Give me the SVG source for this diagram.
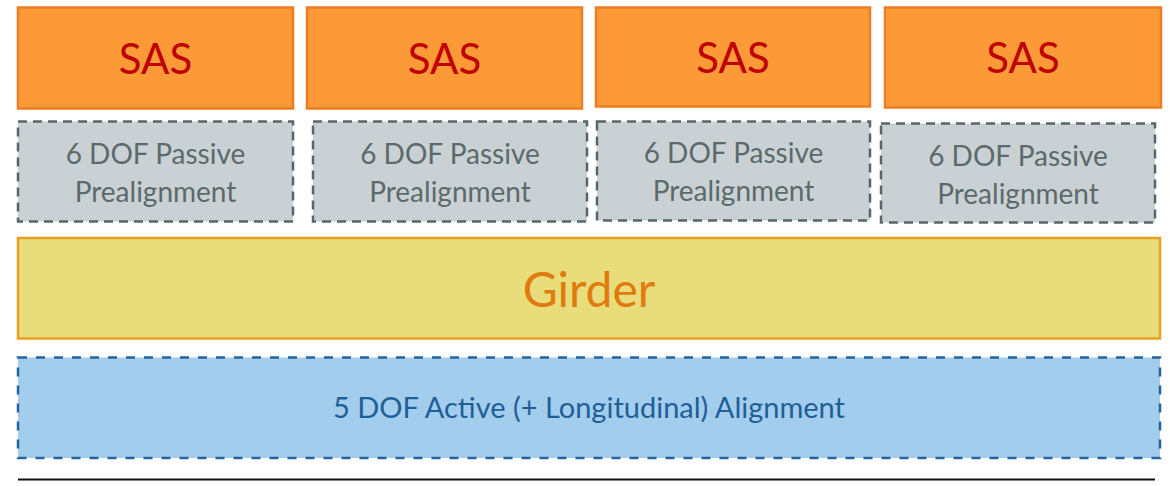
<svg xmlns="http://www.w3.org/2000/svg" width="1170" height="486" viewBox="0 0 1170 486">
<style>
.sas rect{fill:#FD9A38;stroke:#ED7D22;stroke-width:2.5}
.sas text{font-family:Lato,"Open Sans",sans-serif;font-size:42px;fill:#C00000;text-anchor:middle}
.pre rect{fill:#CAD1D4;stroke:#56666A;stroke-width:2.5;stroke-dasharray:9 6}
.pre text{font-family:Lato,"Open Sans",sans-serif;font-size:28px;fill:#5B6A6B;text-anchor:middle}
</style>
<rect width="1170" height="486" fill="#ffffff"/>
<g id="sas1" class="sas"><rect x="18" y="7.5" width="275" height="101"/><text x="155.5" y="74">SAS</text></g>
<g id="sas2" class="sas"><rect x="307" y="7.5" width="275" height="101"/><text x="444.5" y="74">SAS</text></g>
<g id="sas3" class="sas"><rect x="596" y="7.5" width="274" height="99"/><text x="733" y="73">SAS</text></g>
<g id="sas4" class="sas"><rect x="885" y="7.5" width="276" height="100"/><text x="1023" y="73">SAS</text></g>
<g id="pre1" class="pre"><rect x="18" y="121.5" width="275" height="100"/><text x="155.5" y="164">6 DOF Passive</text><text x="155.5" y="202">Prealignment</text></g>
<g id="pre2" class="pre"><rect x="313" y="121.5" width="274" height="100"/><text x="450" y="164">6 DOF Passive</text><text x="450" y="202">Prealignment</text></g>
<g id="pre3" class="pre"><rect x="597" y="121.5" width="273" height="99"/><text x="733.5" y="163">6 DOF Passive</text><text x="733.5" y="201">Prealignment</text></g>
<g id="pre4" class="pre"><rect x="881" y="123.5" width="274" height="99"/><text x="1018" y="166">6 DOF Passive</text><text x="1018" y="204">Prealignment</text></g>
<g id="girder"><rect x="18" y="238" width="1142" height="100.5" fill="#E9DC7A" stroke="#E8A020" stroke-width="2.5"/><text x="589" y="307" font-family="Lato,'Open Sans',sans-serif" font-size="48" fill="#E07B10" text-anchor="middle">Girder</text></g>
<g id="active"><rect x="18" y="357.5" width="1142" height="100.5" fill="#A3CDEC" stroke="#23649E" stroke-width="2.5" stroke-dasharray="9 9"/><text x="589" y="418" font-family="Lato,'Open Sans',sans-serif" font-size="29" fill="#1F5F99" text-anchor="middle">5 DOF Active (+ Longitudinal) Alignment</text></g>
<g id="connectors"><line x1="18" y1="479.5" x2="1155" y2="479.5" stroke="#111111" stroke-width="2"/></g>
</svg>
